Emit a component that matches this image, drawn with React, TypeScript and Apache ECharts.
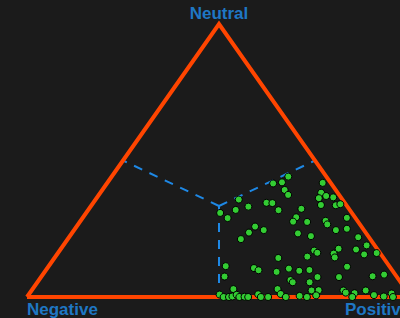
import React, { useEffect, useRef } from "react";
import * as echarts from "echarts";

// Ternary shares of each point (negative share = 1 - positive - neutral)
const positiveShare = [
  0.460, 0.433, 0.454, 0.561, 0.475, 0.493, 0.575, 0.594, 0.615, 0.579,
  0.373, 0.451, 0.467, 0.597, 0.636, 0.646, 0.411, 0.384, 0.496, 0.553,
  0.349, 0.555, 0.378, 0.688, 0.555, 0.592, 0.638, 0.649, 0.465, 0.628,
  0.589, 0.460, 0.494, 0.682, 0.708, 0.451, 0.753, 0.790, 0.770, 0.663,
  0.675, 0.723, 0.719, 0.729, 0.800, 0.830, 0.656, 0.583, 0.461, 0.778,
  0.538, 0.554, 0.604, 0.630, 0.661, 0.686, 0.477, 0.720, 0.776, 0.862,
  0.889, 0.655, 0.665, 0.709, 0.523, 0.638, 0.655, 0.729, 0.747, 0.812,
  0.822, 0.846, 0.870, 0.943, 0.497, 0.512, 0.526, 0.534, 0.542, 0.553,
  0.566, 0.576, 0.597, 0.609, 0.628, 0.674, 0.708, 0.729, 0.750, 0.847,
  0.900, 0.928, 0.953,
];
const neutralShare = [
  0.441, 0.416, 0.420, 0.418, 0.392, 0.374, 0.382, 0.370, 0.365, 0.362,
  0.357, 0.345, 0.344, 0.337, 0.336, 0.340, 0.331, 0.319, 0.318, 0.323,
  0.308, 0.292, 0.289, 0.290, 0.276, 0.275, 0.279, 0.266, 0.258, 0.223,
  0.233, 0.236, 0.245, 0.245, 0.250, 0.212, 0.219, 0.189, 0.174, 0.170,
  0.162, 0.177, 0.159, 0.145, 0.156, 0.161, 0.148, 0.143, 0.113, 0.111,
  0.106, 0.098, 0.092, 0.104, 0.096, 0.099, 0.075, 0.073, 0.073, 0.076,
  0.082, 0.062, 0.054, 0.054, 0.029, 0.029, 0.011, 0.024, 0.025, 0.024,
  0.016, 0.014, 0.024, 0.013, 0.009, 0.0, 0.0, 0.002, 0.008, 0.0,
  0.001, 0.0, 0.010, 0.0, 0.0, 0.0, 0.004, 0.0, 0.006, 0.0,
  0.007, 0.002, 0.0,
];

const vertexLabels = ["Negative", "Neutral", "Positive"];

// ternary (negative, neutral, positive) -> cartesian in the triangle frame
const toXY = (pos: number, neu: number) => [pos + neu / 2, neu];

export default function App() {
  const ref = useRef<HTMLDivElement>(null);
  useEffect(() => {
    if (!ref.current) return;
    const chart = echarts.init(ref.current, undefined, { renderer: "svg" });

    const negV = toXY(0, 0);
    const neuV = toXY(0, 1);
    const posV = toXY(1, 0);
    const center = toXY(1 / 3, 1 / 3);
    const midNegNeu = toXY(0, 0.5);
    const midNeuPos = toXY(0.5, 0.5);
    const midNegPos = toXY(0.5, 0);

    const points = positiveShare.map((p, i) => toXY(p, neutralShare[i]));

    const dashStyle = { color: "#1e88e5", width: 2, type: [9, 8] as any };
    const dashSeries = (a: number[], b: number[]) => ({
      type: "line",
      data: [a, b],
      symbol: "none",
      silent: true,
      clip: false,
      lineStyle: dashStyle,
      z: 2,
    });

    const labelFont = "bold 17px Arial, 'Liberation Sans', sans-serif";
    const labelColor = "#1f77c4";

    chart.setOption({
      animation: false,
      backgroundColor: "#1b1b1b",
      grid: { left: 27, top: 24, width: 384, height: 273, outerBoundsMode: "none" },
      xAxis: { type: "value", min: 0, max: 1, show: false },
      yAxis: { type: "value", min: 0, max: 1, show: false },
      graphic: [
        {
          type: "text",
          x: 219,
          y: 13,
          style: { text: vertexLabels[1], font: labelFont, fill: labelColor, align: "center", verticalAlign: "middle" },
        },
        {
          type: "text",
          x: 27,
          y: 309,
          style: { text: vertexLabels[0], font: labelFont, fill: labelColor, align: "left", verticalAlign: "middle" },
        },
        {
          type: "text",
          x: 345,
          y: 309,
          style: { text: vertexLabels[2], font: labelFont, fill: labelColor, align: "left", verticalAlign: "middle" },
        },
      ],
      series: [
        {
          type: "line",
          data: [negV, neuV, posV, negV],
          symbol: "none",
          silent: true,
          clip: false,
          lineStyle: { color: "#ff4500", width: 4, join: "miter" },
          z: 3,
        },
        dashSeries(center, midNegNeu),
        dashSeries(center, midNeuPos),
        dashSeries(center, midNegPos),
        {
          type: "scatter",
          data: points,
          symbol: "circle",
          symbolSize: 7,
          clip: false,
          itemStyle: { color: "#33cc33", borderColor: "#000000", borderWidth: 1, opacity: 1 },
          z: 5,
        },
      ],
    });
    return () => chart.dispose();
  }, []);

  return (
    <div
      ref={ref}
      style={{ position: "fixed", left: 0, top: 0, width: 400, height: 318 }}
    />
  );
}
